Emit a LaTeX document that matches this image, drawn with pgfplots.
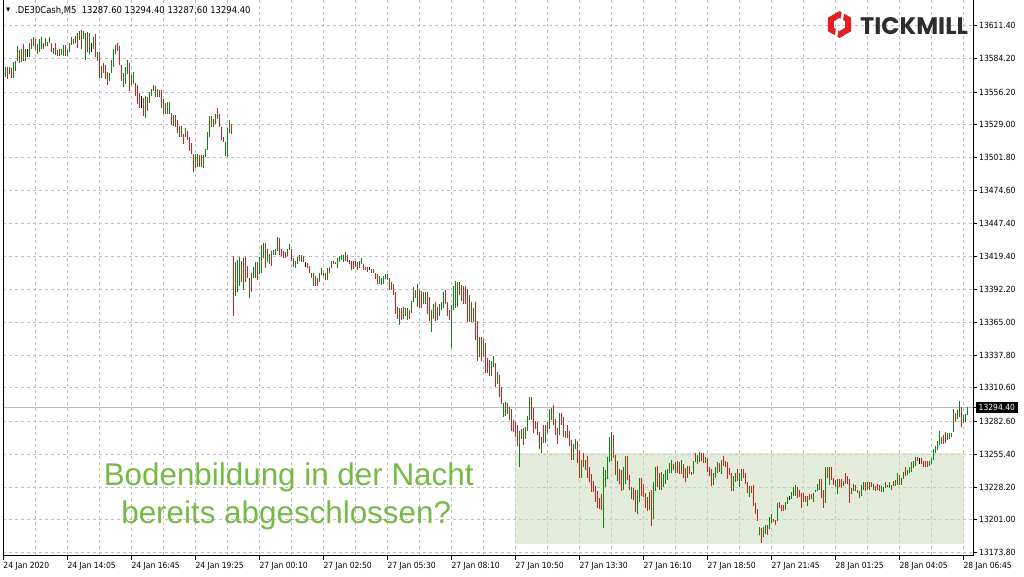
\documentclass[border=0pt]{standalone}
\usepackage{fontspec}
\setmainfont{Liberation Sans}
\IfFontExistsTF{DejaVu Sans Condensed}{\newfontfamily\tah{DejaVu Sans Condensed}}{\newfontfamily\tah{DejaVu Sans}[FakeStretch=0.9]}
\newfontfamily\symf{DejaVu Sans}
\newfontfamily\logof{Poppins}
\usepackage{pgfplots}
\usepackage{pgfplotstable}
\pgfplotsset{compat=1.18}

\definecolor{upg}{RGB}{16,128,16}
\definecolor{dnr}{RGB}{226,24,24}
\definecolor{gridc}{RGB}{192,192,192}
\definecolor{boxfill}{RGB}{201,219,185}
\definecolor{txtgreen}{RGB}{119,185,69}
\definecolor{logored}{RGB}{227,30,36}
\definecolor{logotext}{RGB}{45,45,45}
\definecolor{pricel}{RGB}{185,185,185}

% DE30 M5 bars (bar index, high, low), split by direction
\pgfplotstableread[row sep=\\]{
i hi lo\\
0 13572 13566\\ 1 13577 13569\\ 3 13577 13571\\ 5 13581 13568\\ 6 13582 13574\\ 7 13594 13582\\
9 13592 13581\\ 11 13592 13582\\ 13 13597 13585\\ 15 13602 13594\\ 17 13596 13588\\ 18 13600 13589\\
19 13602 13592\\ 21 13601 13594\\ 22 13598 13594\\ 23 13602 13597\\ 25 13593 13588\\ 27 13591 13586\\
29 13592 13587\\ 30 13595 13586\\ 32 13591 13586\\ 33 13597 13589\\ 34 13602 13595\\ 36 13603 13597\\
38 13607 13599\\ 40 13607 13600\\ 41 13605 13583\\ 43 13605 13588\\ 45 13602 13592\\ 47 13589 13582\\
49 13578 13568\\ 53 13572 13565\\ 54 13583 13572\\ 55 13592 13577\\ 56 13595 13588\\ 60 13572 13560\\
61 13577 13563\\ 62 13583 13571\\ 64 13570 13562\\ 65 13573 13563\\ 71 13553 13535\\ 73 13556 13547\\
74 13559 13553\\ 76 13561 13552\\ 78 13558 13552\\ 80 13550 13538\\ 82 13548 13538\\ 83 13548 13538\\
85 13537 13528\\ 88 13528 13519\\ 91 13526 13519\\ 96 13505 13493\\ 97 13505 13494\\ 100 13504 13493\\
101 13509 13502\\ 102 13523 13508\\ 103 13536 13519\\ 105 13534 13527\\ 106 13538 13530\\ 111 13515 13503\\
112 13526 13502\\ 113 13533 13522\\ 116 13415 13387\\ 117 13417 13390\\ 118 13419 13395\\ 120 13418 13392\\
123 13402 13385\\ 125 13411 13402\\ 126 13415 13402\\ 128 13419 13405\\ 129 13429 13406\\ 130 13431 13418\\
132 13426 13415\\ 133 13422 13413\\ 135 13425 13421\\ 136 13426 13421\\ 137 13436 13424\\ 142 13426 13420\\
143 13430 13425\\ 146 13416 13410\\ 147 13419 13413\\ 149 13421 13415\\ 155 13406 13395\\ 158 13406 13398\\
159 13410 13404\\ 162 13410 13400\\ 164 13416 13410\\ 167 13418 13410\\ 168 13420 13415\\ 169 13421 13417\\
170 13421 13415\\ 171 13423 13416\\ 178 13416 13410\\ 179 13418 13413\\ 185 13409 13406\\ 188 13403 13397\\
189 13402 13396\\ 190 13403 13397\\ 191 13405 13401\\ 192 13405 13400\\ 194 13398 13392\\ 198 13377 13363\\
201 13377 13370\\ 202 13377 13367\\ 204 13383 13373\\ 205 13394 13382\\ 207 13397 13378\\ 210 13390 13380\\
211 13390 13380\\ 214 13375 13357\\ 215 13380 13368\\ 218 13380 13370\\ 219 13382 13375\\ 220 13390 13377\\
224 13379 13344\\ 225 13395 13375\\ 226 13399 13377\\ 227 13398 13378\\ 229 13396 13383\\ 233 13388 13365\\
235 13377 13365\\ 238 13353 13336\\ 240 13351 13336\\ 244 13333 13320\\ 245 13337 13328\\ 247 13324 13314\\
250 13298 13286\\ 251 13299 13287\\ 253 13295 13284\\ 258 13275 13245\\ 259 13276 13268\\ 261 13278 13268\\
262 13287 13275\\ 263 13303 13284\\ 269 13270 13256\\ 271 13280 13265\\ 273 13293 13276\\ 274 13294 13284\\
278 13290 13271\\ 281 13275 13269\\ 285 13264 13251\\ 286 13268 13260\\ 289 13251 13236\\ 291 13251 13242\\
300 13245 13194\\ 301 13242 13228\\ 302 13253 13235\\ 303 13270 13249\\ 304 13274 13250\\ 307 13250 13233\\
310 13245 13226\\ 311 13254 13231\\ 314 13228 13218\\ 317 13226 13206\\ 318 13236 13216\\ 323 13224 13209\\
325 13232 13202\\ 326 13245 13225\\ 328 13240 13226\\ 330 13239 13228\\ 331 13242 13231\\ 332 13243 13234\\
333 13248 13240\\ 334 13251 13240\\ 336 13249 13240\\ 339 13251 13239\\ 342 13246 13236\\ 345 13250 13239\\
347 13255 13247\\ 348 13257 13249\\ 351 13253 13248\\ 355 13240 13230\\ 356 13245 13236\\ 357 13249 13240\\
359 13251 13239\\ 365 13237 13225\\ 366 13240 13232\\ 368 13240 13228\\ 369 13243 13233\\ 373 13229 13220\\
378 13195 13188\\ 380 13195 13187\\ 381 13197 13189\\ 383 13203 13193\\ 384 13206 13198\\ 387 13215 13200\\
391 13216 13209\\ 392 13220 13214\\ 394 13224 13218\\ 395 13228 13221\\ 396 13230 13221\\ 402 13221 13212\\
405 13223 13216\\ 406 13226 13224\\ 407 13231 13225\\ 408 13235 13226\\ 411 13245 13215\\ 413 13245 13230\\
417 13235 13222\\ 420 13233 13229\\ 424 13227 13222\\ 425 13231 13225\\ 428 13225 13219\\ 429 13230 13221\\
430 13232 13226\\ 432 13232 13226\\ 435 13231 13226\\ 439 13229 13224\\ 440 13228 13224\\ 441 13232 13227\\
443 13232 13227\\ 444 13230 13226\\ 446 13234 13229\\ 447 13240 13230\\ 449 13236 13230\\ 450 13241 13235\\
452 13242 13238\\ 453 13245 13240\\ 454 13249 13241\\ 455 13250 13244\\ 456 13253 13246\\ 463 13250 13246\\
464 13252 13247\\ 465 13260 13251\\ 466 13262 13256\\ 467 13266 13259\\ 468 13275 13263\\ 469 13270 13264\\
472 13273 13267\\ 473 13273 13268\\ 474 13273 13270\\ 475 13293 13274\\ 477 13292 13285\\ 478 13300 13286\\
480 13288 13281\\ 481 13289 13282\\ 482 13294.4 13287.6\\
}\upbars

\pgfplotstableread[row sep=\\]{
i hi lo\\
2 13577 13567\\ 4 13576 13568\\ 8 13591 13580\\ 10 13596 13582\\ 14 13600 13592\\ 16 13600 13591\\
20 13597 13592\\ 24 13597 13589\\ 26 13597 13587\\ 28 13592 13586\\ 31 13595 13586\\ 35 13600 13596\\
37 13605 13593\\ 39 13608 13592\\ 42 13606 13589\\ 46 13604 13585\\ 48 13589 13568\\ 50 13580 13572\\
51 13579 13567\\ 52 13573 13562\\ 57 13597 13590\\ 58 13594 13579\\ 59 13579 13565\\ 63 13580 13557\\
66 13564 13553\\ 67 13562 13546\\ 68 13555 13543\\ 70 13551 13536\\ 72 13552 13540\\ 75 13562 13557\\
77 13559 13552\\ 79 13558 13543\\ 81 13547 13538\\ 84 13539 13529\\ 86 13537 13527\\ 87 13533 13522\\
89 13528 13519\\ 90 13521 13513\\ 92 13524 13516\\ 93 13519 13507\\ 94 13514 13505\\ 95 13505 13490\\
98 13504 13494\\ 99 13504 13494\\ 104 13536 13527\\ 107 13543 13534\\ 108 13538 13527\\ 109 13527 13516\\
110 13519 13515\\ 114 13530 13521\\ 115 13420 13370\\ 119 13416 13398\\ 121 13419 13398\\ 122 13412 13402\\
124 13406 13390\\ 127 13415 13400\\ 131 13431 13410\\ 134 13424 13412\\ 138 13435 13421\\ 139 13426 13420\\
140 13424 13418\\ 141 13423 13418\\ 144 13426 13416\\ 145 13418 13411\\ 148 13421 13416\\ 150 13420 13415\\
152 13414 13410\\ 153 13412 13406\\ 154 13406 13402\\ 156 13403 13395\\ 157 13402 13395\\ 160 13406 13403\\
161 13406 13400\\ 163 13411 13406\\ 165 13416 13413\\ 166 13415 13413\\ 172 13421 13415\\ 173 13417 13413\\
174 13416 13408\\ 175 13416 13409\\ 176 13416 13411\\ 177 13415 13408\\ 180 13413 13408\\ 181 13411 13408\\
182 13411 13407\\ 184 13409 13406\\ 186 13406 13401\\ 187 13405 13397\\ 193 13402 13392\\ 195 13397 13388\\
196 13390 13372\\ 197 13378 13368\\ 199 13377 13367\\ 200 13378 13368\\ 203 13375 13368\\ 206 13392 13385\\
208 13392 13377\\ 209 13391 13377\\ 212 13390 13372\\ 213 13386 13366\\ 216 13382 13366\\ 217 13378 13367\\
221 13392 13380\\ 222 13382 13370\\ 223 13375 13367\\ 228 13398 13388\\ 230 13395 13380\\ 231 13395 13380\\
232 13393 13365\\ 234 13382 13365\\ 236 13382 13350\\ 237 13366 13333\\ 239 13353 13333\\ 241 13348 13323\\
242 13335 13323\\ 243 13334 13320\\ 246 13331 13311\\ 248 13321 13303\\ 249 13311 13297\\ 252 13298 13289\\
254 13293 13275\\ 255 13284 13274\\ 256 13282 13270\\ 257 13280 13262\\ 260 13277 13263\\ 264 13303 13284\\
265 13294 13273\\ 266 13283 13276\\ 267 13282 13271\\ 268 13274 13260\\ 270 13280 13265\\ 272 13282 13273\\
275 13296 13280\\ 276 13285 13271\\ 277 13277 13264\\ 279 13290 13280\\ 280 13286 13270\\ 282 13280 13269\\
283 13275 13262\\ 284 13267 13251\\ 287 13266 13248\\ 288 13259 13236\\ 290 13256 13245\\ 292 13254 13236\\
293 13245 13232\\ 294 13239 13224\\ 295 13233 13224\\ 296 13229 13216\\ 297 13225 13211\\ 298 13219 13210\\
299 13222 13209\\ 305 13271 13252\\ 306 13255 13238\\ 308 13243 13231\\ 309 13242 13225\\ 312 13254 13234\\
313 13238 13226\\ 315 13227 13217\\ 316 13226 13207\\ 319 13236 13221\\ 320 13231 13220\\ 321 13223 13211\\
322 13220 13208\\ 324 13226 13196\\ 327 13246 13228\\ 329 13241 13226\\ 335 13247 13242\\ 337 13250 13240\\
338 13249 13239\\ 340 13247 13236\\ 341 13244 13232\\ 343 13246 13239\\ 344 13241 13238\\ 346 13256 13249\\
349 13256 13250\\ 350 13256 13248\\ 352 13252 13241\\ 353 13245 13237\\ 354 13243 13229\\ 358 13248 13241\\
360 13254 13246\\ 361 13250 13245\\ 362 13249 13235\\ 363 13244 13238\\ 364 13240 13225\\ 367 13243 13233\\
370 13243 13236\\ 371 13240 13231\\ 372 13232 13223\\ 374 13229 13223\\ 375 13230 13212\\ 376 13215 13206\\
377 13210 13200\\ 379 13194 13182\\ 382 13197 13188\\ 385 13202 13199\\ 386 13201 13197\\ 388 13216 13211\\
389 13213 13208\\ 390 13213 13208\\ 397 13228 13219\\ 398 13226 13220\\ 399 13223 13211\\ 400 13223 13216\\
401 13221 13216\\ 403 13222 13217\\ 404 13222 13218\\ 409 13235 13219\\ 410 13226 13211\\ 412 13245 13236\\
414 13245 13234\\ 415 13236 13230\\ 416 13234 13228\\ 418 13235 13228\\ 419 13235 13227\\ 421 13240 13231\\
422 13237 13231\\ 423 13235 13215\\ 426 13230 13225\\ 427 13226 13223\\ 431 13232 13225\\ 433 13232 13226\\
434 13232 13228\\ 436 13229 13225\\ 437 13231 13226\\ 438 13230 13225\\ 442 13230 13228\\ 445 13233 13229\\
448 13238 13230\\ 451 13245 13237\\ 457 13253 13250\\ 459 13252 13247\\ 460 13250 13245\\ 461 13250 13245\\
462 13250 13245\\ 470 13271 13264\\ 471 13274 13265\\ 476 13290 13282\\ 479 13295 13278\\
}\dnbars

\pgfplotstableread[row sep=\\]{
i hi lo\\
12 13592 13585\\ 44 13597 13589\\ 69 13553 13543\\ 151 13415 13411\\ 183 13411 13408\\
393 13221 13217\\ 458 13252 13247\\
}\dojibars

\begin{document}
\begin{tikzpicture}
\fill[white] (0,0) rectangle (1024bp,576bp);
\begin{axis}[
  at={(3bp,21bp)}, anchor=south west,
  scale only axis, width=970bp, height=555bp,
  xmin=-0.15, xmax=484.85, ymin=13171.29, ymax=13632.16,
  axis x line*=bottom, axis y line*=right,
  axis line style={black, line width=1bp},
  scaled x ticks=false, scaled y ticks=false,
  xtick={0,32,...,480},
  xticklabels={24 Jan 2020,24 Jan 14:05,24 Jan 16:45,24 Jan 19:25,27 Jan 00:10,27 Jan 02:50,27 Jan 05:30,27 Jan 08:10,27 Jan 10:50,27 Jan 13:30,27 Jan 16:10,27 Jan 18:50,27 Jan 21:45,28 Jan 01:25,28 Jan 04:05,28 Jan 06:45},
  minor xtick={16,48,...,464},
  ytick={13173.8,13201.0,13228.2,13255.4,13282.6,13310.6,13337.8,13365.0,13392.2,13419.4,13447.4,13474.6,13501.8,13529.0,13556.2,13584.2,13611.4},
  yticklabels={13173.80,13201.00,13228.20,13255.40,13282.60,13310.60,13337.80,13365.00,13392.20,13419.40,13447.40,13474.60,13501.80,13529.00,13556.20,13584.20,13611.40},
  tick align=outside, major tick length=4bp, minor tick length=0pt,
  tick style={black, line width=0.8bp},
  grid=both,
  major grid style={gridc, dash pattern=on 3bp off 3bp, line width=0.8bp},
  minor grid style={gridc, dash pattern=on 3bp off 3bp, line width=0.8bp},
  xticklabel style={anchor=north west, inner sep=0pt, font=\tah\fontsize{8.5}{10}\selectfont},
  yticklabel style={anchor=west, inner sep=0pt, font=\tah\fontsize{8.5}{10}\selectfont},
  xticklabel shift=3bp, yticklabel shift=2bp,
  extra y ticks={13294.4}, extra y tick labels={13294.40},
  extra y tick style={grid=major, major grid style={pricel, solid, line width=1bp},
    yticklabel style={fill=black, text=white, inner xsep=2.5bp, inner ysep=2.5bp, xshift=-3bp}},
]
% translucent box so that the grid stays visible through it
\fill[boxfill, fill opacity=0.5] (axis cs:255.85,13181.25) rectangle (axis cs:480.35,13256);
\addplot[color=upg, no markers, forget plot,
  quiver={u=0, v=\thisrow{hi}-\thisrow{lo},
    every arrow/.append style={draw=upg, line width=1.4bp}}]
  table[x=i, y=lo] {\upbars};
\addplot[color=dnr, no markers, forget plot,
  quiver={u=0, v=\thisrow{hi}-\thisrow{lo},
    every arrow/.append style={draw=dnr, line width=1.4bp}}]
  table[x=i, y=lo] {\dnbars};
\addplot[color=black, no markers, forget plot,
  quiver={u=0, v=\thisrow{hi}-\thisrow{lo},
    every arrow/.append style={draw=black, line width=1.4bp}}]
  table[x=i, y=lo] {\dojibars};
\draw[black, line width=1.5bp] (rel axis cs:0,0) -- (rel axis cs:0,1);
\end{axis}

% header
\node[anchor=west, inner sep=0pt] at (6bp,566.5bp) {\symf\fontsize{5.5}{6}\selectfont ▼};
\node[anchor=west, inner sep=0pt] at (15bp,566.5bp)
  {\tah\fontsize{9.4}{10}\selectfont .DE30Cash,M5\ \ 13287.60 13294.40 13287.60 13294.40};

% logo
\begin{scope}[shift={(839.5bp,552bp)}]
  \draw[logored, line width=6bp, line join=miter]
    (90:10bp) -- (150:10bp) -- (210:10bp) -- (270:10bp) -- (330:10bp) -- (30:10bp) -- cycle;
  \draw[white, line width=2.6bp] (60:4bp) -- ++(80:12bp);
  \draw[white, line width=2.6bp] (240:4bp) -- ++(260:12bp);
\end{scope}
\node[anchor=west, inner sep=0pt, text=logotext] at (860bp,550bp)
  {\logof\bfseries\fontsize{24}{24}\selectfont TICKMILL};

% annotation
\node[anchor=base, inner sep=0pt, text=txtgreen] at (288.7bp,91bp)
  {\fontsize{31.5}{36}\selectfont Bodenbildung in der Nacht};
\node[anchor=base, inner sep=0pt, text=txtgreen] at (286.2bp,53.3bp)
  {\fontsize{31.5}{36}\selectfont bereits abgeschlossen?};
\end{tikzpicture}
\end{document}
